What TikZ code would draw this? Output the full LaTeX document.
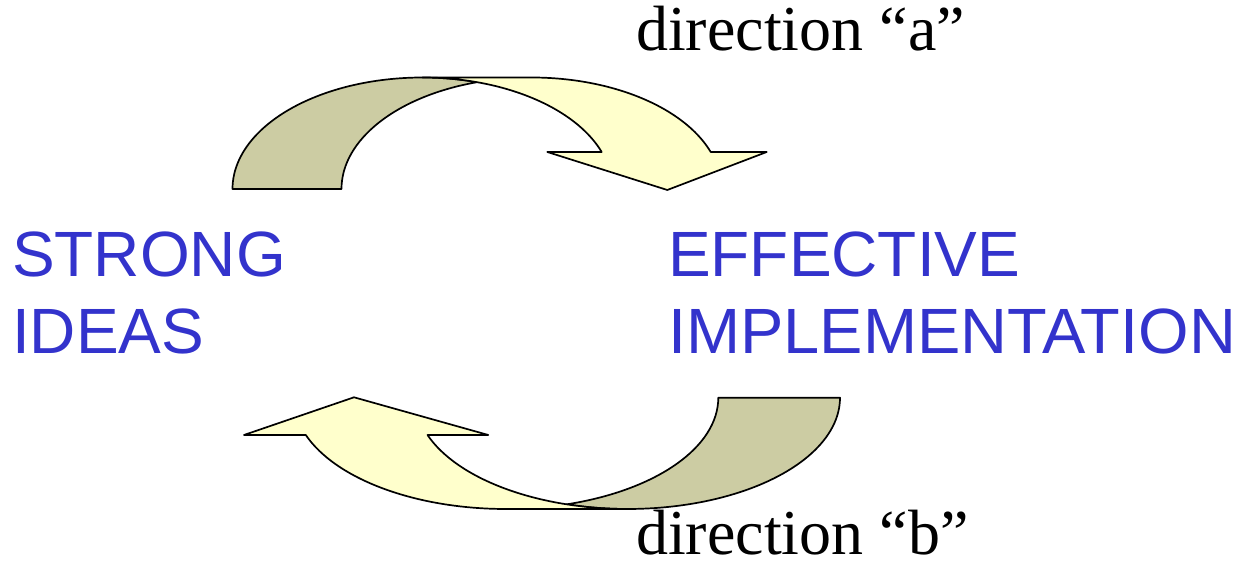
\documentclass[tikz,border=0pt]{standalone}
\usepackage{fontspec}
\setmainfont{Liberation Serif}
\newfontfamily\arialfont{Liberation Sans}
\definecolor{olivefill}{HTML}{CCCCA3}
\definecolor{paleyellow}{HTML}{FFFFCC}
\definecolor{ideablue}{HTML}{3333CC}
\begin{document}
\begin{tikzpicture}[x=1pt,y=1pt,
  band/.style={draw=black,line width=1.7pt,line join=round},
  backband/.style={band,fill=olivefill},
  frontband/.style={band,fill=paleyellow},
  bluetext/.style={inner sep=0pt,anchor=base west,text=ideablue,
    font=\arialfont\fontsize{64pt}{76.6pt}\selectfont},
  dirtext/.style={inner sep=0pt,anchor=base west,font=\fontsize{64pt}{70pt}\selectfont}]
\useasboundingbox (0,0) rectangle (1240,569);
% ---- top arrow (direction a) ----
\draw[backband] (232.5,380) arc[start angle=180,end angle=73.33,x radius=190,y radius=111.5]
  arc[start angle=106.67,end angle=180,x radius=190,y radius=111.5] -- cycle;
\draw[frontband] (422.5,491.5) -- (531.5,491.5)
  arc[start angle=90,end angle=19.38,x radius=190,y radius=111.5]
  -- (766.7,417) -- (667.3,379) -- (547.3,417) -- (601.7,417)
  arc[start angle=19.38,end angle=90,x radius=190,y radius=111.5] -- cycle;
% ---- bottom arrow (direction b) ----
\draw[backband] (840,171.3) arc[start angle=0,end angle=-106.65,x radius=212.4,y radius=111.3]
  arc[start angle=-73.35,end angle=0,x radius=212.4,y radius=111.3] -- cycle;
\draw[frontband] (627.6,60) -- (505.9,60)
  arc[start angle=270,end angle=199.58,x radius=212.4,y radius=111.3]
  -- (244,134) -- (354,171.7) -- (488.3,134) -- (427.5,134)
  arc[start angle=199.58,end angle=270,x radius=212.4,y radius=111.3] -- cycle;
% ---- texts ----
\node[bluetext] (strong) at (12,292.3) {STRONG};
\node[bluetext] (ideas) at (12,215.7) {IDEAS};
\node[bluetext] (effective) at (668,292.3) {EFFECTIVE};
\node[bluetext,xscale=1.015] (implementation) at (668,215.7) {IMPLEMENTATION};
\node[dirtext] (dirA) at (636,518.3) {direction “a”};
\node[dirtext] (dirB) at (636,14.7) {direction “b”};
\end{tikzpicture}
\end{document}
